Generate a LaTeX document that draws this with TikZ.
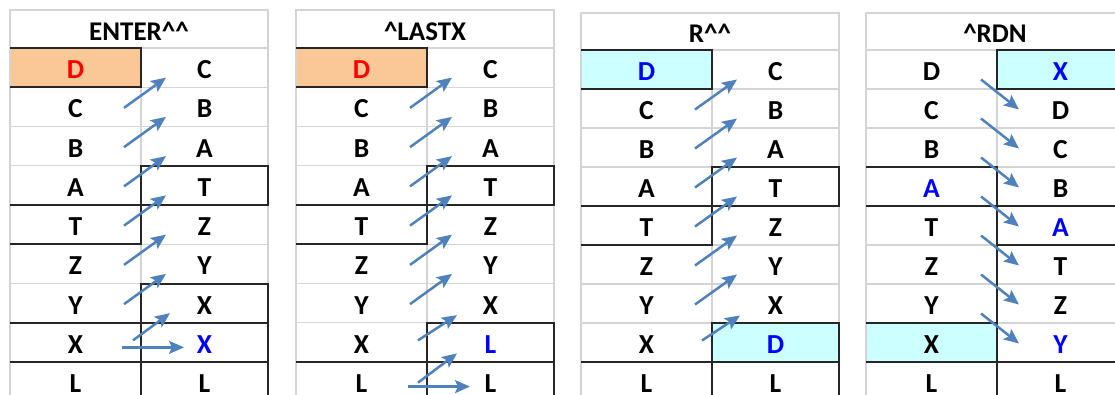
\documentclass[tikz,border=0pt]{standalone}
\usepackage{fontspec}
\setmainfont{Carlito}
\usetikzlibrary{arrows.meta,backgrounds}

\definecolor{gridgray}{RGB}{212,212,212}
\definecolor{xlorange}{RGB}{250,200,150}
\definecolor{xlcyan}{RGB}{204,255,255}
\definecolor{xlblue}{RGB}{79,129,189}
\newcommand{\redltr}[1]{\textcolor{red}{#1}}
\newcommand{\blueltr}[1]{\textcolor{blue}{#1}}

\begin{document}
\begin{tikzpicture}[
  x=1pt, y=-1pt,
  cell/.style={draw=gridgray, line width=1.2pt, minimum height=39.25pt, inner sep=0pt, outer sep=0pt,
    text height=22pt, text depth=0pt, font=\fontsize{27.5}{30}\selectfont\bfseries},
  lcell/.style={cell, minimum width=131pt},
  rcell/.style={cell, minimum width=127pt},
  head/.style={cell, minimum width=258pt, minimum height=38pt, font=\fontsize{27}{30}\selectfont\bfseries},
  box/.style={draw=black!85, line width=2pt},
  stk/.style={draw=xlblue, line width=2.5pt, -{Stealth[length=15pt,width=13pt,inset=3pt]}}
]
  \useasboundingbox (0,0) rectangle (1115,394);

  % ENTER^^
  \node[head] (ent-t) at (139,29) {ENTER\textasciicircum\textasciicircum};
  \foreach \l/\r [count=\i] in {\redltr D/C, C/B, B/A, A/T, T/Z, Z/Y, Y/X, X/\blueltr X, L/L} {
    \node[lcell] (ent-l\i) at (75.5, 28.375+39.25*\i) {\l};
    \node[rcell] (ent-r\i) at (204.5, 28.375+39.25*\i) {\r};
  }

  % ^LASTX
  \node[head] (lx-t) at (425,29) {\textasciicircum LASTX};
  \foreach \l/\r [count=\i] in {\redltr D/C, C/B, B/A, A/T, T/Z, Z/Y, Y/X, X/\blueltr L, L/L} {
    \node[lcell] (lx-l\i) at (361.5, 28.375+39.25*\i) {\l};
    \node[rcell] (lx-r\i) at (490.5, 28.375+39.25*\i) {\r};
  }

  % R^^
  \node[head, minimum height=37pt] (rup-t) at (710,31.5) {R\textasciicircum\textasciicircum};
  \foreach \l/\r [count=\i] in {\blueltr D/C, C/B, B/A, A/T, T/Z, Z/Y, Y/X, X/\blueltr D, L/L} {
    \node[lcell, minimum height=39pt] (rup-l\i) at (646.5, 30.5+39*\i) {\l};
    \node[rcell, minimum height=39pt] (rup-r\i) at (775.5, 30.5+39*\i) {\r};
  }

  % ^RDN
  \node[head, minimum height=37pt] (rdn-t) at (995,31.5) {\textasciicircum RDN};
  \foreach \l/\r [count=\i] in {D/\blueltr X, C/D, B/C, \blueltr A/B, T/\blueltr A, Z/T, Y/Z, X/\blueltr Y, L/L} {
    \node[lcell, minimum height=39pt] (rdn-l\i) at (931.5, 30.5+39*\i) {\l};
    \node[rcell, minimum height=39pt] (rdn-r\i) at (1060.5, 30.5+39*\i) {\r};
  }

  % highlighted cells
  \begin{scope}[on background layer]
    \fill[xlorange] (ent-l1.north west) rectangle (ent-l1.south east);
    \fill[xlorange] (lx-l1.north west) rectangle (lx-l1.south east);
    \fill[xlcyan] (rup-l1.north west) rectangle (rup-l1.south east);
    \fill[xlcyan] (rup-r8.north west) rectangle (rup-r8.south east);
    \fill[xlcyan] (rdn-r1.north west) rectangle (rdn-r1.south east);
    \fill[xlcyan] (rdn-l8.north west) rectangle (rdn-l8.south east);
  \end{scope}

  % cell borders
  \foreach \c in {ent-l1, ent-l5, ent-l8, lx-l1, lx-l5, rup-l1, rup-l5, rdn-l4, rdn-l8}
    \draw[box] (\c.north west) -- (\c.north east) -- (\c.south east) -- (\c.south west);
  \foreach \c in {ent-r4, ent-r7, ent-r8, ent-r9, lx-r4, lx-r8, lx-r9, rup-r4, rup-r8, rup-r9, rdn-r1, rdn-r5, rdn-r9}
    \draw[box] (\c.north west) rectangle (\c.south east);
  \draw[box] (lx-l9.north west) -- (lx-l9.north east);
  \draw[box] (rup-l9.north west) -- (rup-l9.north east);
  \draw[box] (rdn-l4.north east) -- (rdn-l9.south east);

  % stack moves
  \foreach \t in {ent, lx, rup}
    \foreach \i [remember=\i as \j (initially 1)] in {2,...,7}
      \draw[stk] ([xshift=-17pt,yshift=-1pt]\t-l\i.east) -- ([xshift=25pt,yshift=-10pt]\t-r\j.west);
  \draw[stk] ([xshift=-8pt,yshift=2pt]ent-l8.east) -- ([xshift=29pt,yshift=-10pt]ent-r7.west);
  \draw[stk] ([xshift=-19pt,yshift=-5pt]ent-l8.east) -- ([xshift=43pt,yshift=-5pt]ent-r8.west);
  \draw[stk] ([xshift=-9pt,yshift=2pt]lx-l8.east) -- ([xshift=30pt,yshift=-12pt]lx-r7.west);
  \draw[stk] ([xshift=-9pt,yshift=-1pt]lx-l9.east) -- ([xshift=30pt,yshift=-11pt]lx-r8.west);
  \draw[stk] ([xshift=-19pt,yshift=-5pt]lx-l9.east) -- ([xshift=43pt,yshift=-5pt]lx-r9.west);
  \draw[stk] ([xshift=-10pt,yshift=2pt]rup-l8.east) -- ([xshift=28pt,yshift=-12pt]rup-r7.west);
  \foreach \i [evaluate=\i as \j using int(\i+1)] in {1,...,7}
    \draw[stk] ([xshift=-16pt,yshift=-10pt]rdn-l\i.east) -- ([xshift=22pt,yshift=-1pt]rdn-r\j.west);
\end{tikzpicture}
\end{document}
